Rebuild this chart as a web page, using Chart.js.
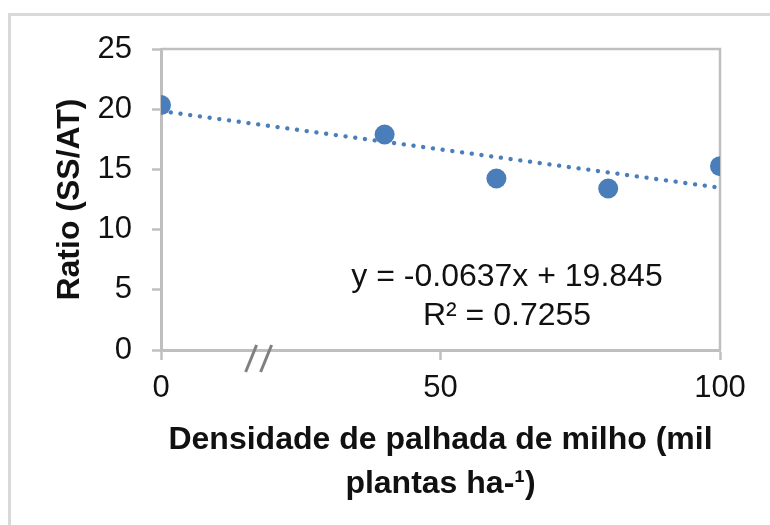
<!DOCTYPE html>
<html>
<head>
<meta charset="utf-8">
<script src="https://cdn.jsdelivr.net/npm/chart.js@4.4.1/dist/chart.umd.min.js"></script>
<style>
  html, body { margin: 0; padding: 0; background: #fff; overflow: hidden; }
  #wrap { position: relative; width: 770px; height: 525px; }
  #frame { position: absolute; left: 8px; top: 13px; width: 820px; height: 600px;
           border: 3px solid #d9d9d9; box-sizing: border-box; }
  canvas { position: absolute; left: 0; top: 0; }
</style>
</head>
<body>
<div id="wrap">
  <div id="frame"></div>
  <canvas id="c" width="770" height="525"></canvas>
</div>
<script>
// ── data ─────────────────────────────────────────────
const densidade = [0, 40, 60, 80, 100];
const ratio     = [20.34, 17.9, 14.24, 13.41, 15.27];

// linear trend (Excel) – end points at x = 0 and x = 100
const trendX = [0, 100];
const trendY = [19.845, 13.475];

const equationLines = ['y = -0.0637x + 19.845', 'R² = 0.7255'];
const xTitle = ['Densidade de palhada de milho (mil', 'plantas ha-¹)'];
const yTitle = 'Ratio (SS/AT)';

const BLUE = '#4a7ebb';
const AXIS = '#bfbfbf';
const FONT = "'Liberation Sans', Arial, sans-serif";

// ── plugins ─────────────────────────────────────────
// plot frame (top + right) and the axis break "//"
const framePlugin = {
    id: 'frame',
    beforeDatasetsDraw(chart) {
        const { ctx, chartArea: a } = chart;
        ctx.save();
        ctx.strokeStyle = AXIS;
        ctx.lineWidth = 2.5;
        ctx.beginPath();
        ctx.moveTo(a.left, a.top);
        ctx.lineTo(a.right, a.top);
        ctx.lineTo(a.right, a.bottom);
        ctx.stroke();
        ctx.restore();
    },
    afterDraw(chart) {
        const { ctx, scales: { x } } = chart;
        const bx = x.getPixelForValue(18);
        const y0 = x.top - 5, y1 = x.top + 22;
        ctx.save();
        ctx.strokeStyle = '#808080';
        ctx.lineWidth = 3;
        [-5, 10].forEach(dx => {
            ctx.beginPath();
            ctx.moveTo(bx + dx, y0);
            ctx.lineTo(bx + dx - 11, y1);
            ctx.stroke();
        });
        ctx.restore();
    },
};

// trendline equation label
const equationPlugin = {
    id: 'equation',
    afterDatasetsDraw(chart) {
        const { ctx, scales: { x, y } } = chart;
        const cx = x.getPixelForValue(61.9);
        const cy = y.getPixelForValue(6.05);
        ctx.save();
        ctx.fillStyle = '#111';
        ctx.font = '32px ' + FONT;
        ctx.textAlign = 'center';
        ctx.textBaseline = 'middle';
        equationLines.forEach((t, i) => ctx.fillText(t, cx, cy + i * 39));
        ctx.restore();
    },
};

new Chart(document.getElementById('c'), {
    type: 'scatter',
    data: {
        datasets: [
            {
                label: 'Ratio',
                data: densidade.map((d, i) => ({ x: d, y: ratio[i] })),
                backgroundColor: BLUE,
                borderColor: BLUE,
                pointRadius: 10,
                pointBorderWidth: 0,
                order: 1,
            },
            {
                label: 'Linear',
                type: 'line',
                data: trendX.map((d, i) => ({ x: d, y: trendY[i] })),
                borderColor: BLUE,
                borderWidth: 4.3,
                borderDash: [0.1, 9.7],
                borderCapStyle: 'round',
                pointRadius: 0,
                fill: false,
                order: 2,
            },
        ],
    },
    options: {
        responsive: false,
        animation: false,
        layout: { padding: { left: 0, top: 49, right: 50, bottom: 0 } },
        plugins: {
            legend: { display: false },
            tooltip: { enabled: false },
        },
        scales: {
            x: {
                type: 'linear',
                min: 0, max: 100,
                afterFit: s => { s.height = 175; },
                ticks: { stepSize: 50, color: '#111', padding: 10, font: { family: FONT, size: 31 } },
                grid: { drawOnChartArea: false, tickLength: 10, tickColor: AXIS, tickWidth: 2.5 },
                border: { color: AXIS, width: 3 },
                title: {
                    display: true, text: xTitle, color: '#111',
                    font: { family: FONT, size: 32, weight: 'bold', lineHeight: 1.4 },
                    padding: { top: 0, bottom: 18 },
                },
            },
            y: {
                min: 0, max: 25,
                afterFit: s => { s.width = 161; },
                ticks: { stepSize: 5, color: '#111', padding: 20, font: { family: FONT, size: 31 } },
                grid: { drawOnChartArea: false, tickLength: 9, tickColor: AXIS, tickWidth: 2.5 },
                border: { color: AXIS, width: 3 },
                title: {
                    display: true, text: yTitle, color: '#111',
                    font: { family: FONT, size: 32, weight: 'bold', lineHeight: 1.2 },
                    padding: { top: 51, bottom: 0 },
                },
            },
        },
    },
    plugins: [framePlugin, equationPlugin],
});
</script>
</body>
</html>
